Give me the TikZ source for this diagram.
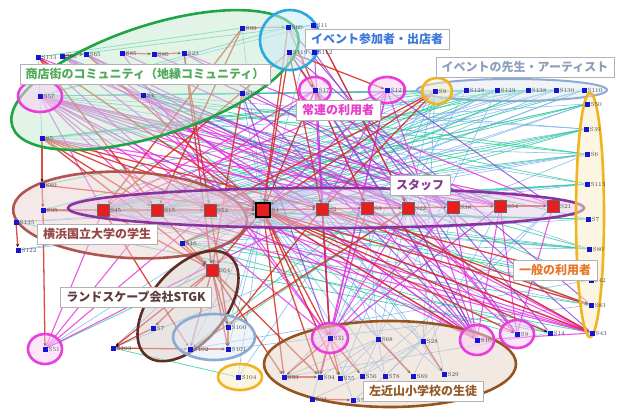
\documentclass[tikz,border=0pt]{standalone}
\usepackage{fontspec}
\usepackage{tikz}
\usetikzlibrary{arrows.meta}
\newfontfamily\jp{Noto Sans CJK JP}
\pgfdeclarelayer{edges}
\pgfdeclarelayer{groups}
\pgfsetlayers{edges,groups,main}
\definecolor{nodeblue}{RGB}{20,20,210}
\definecolor{staffred}{RGB}{232,30,30}
\definecolor{linkred}{RGB}{215,45,30}
\definecolor{linkpink}{RGB}{232,45,222}
\definecolor{linkviolet}{RGB}{150,60,210}
\definecolor{linkblue}{RGB}{110,170,235}
\definecolor{linkgreen}{RGB}{40,210,150}
\definecolor{grpgreen}{RGB}{30,165,70}
\definecolor{grpcyan}{RGB}{40,170,225}
\definecolor{grpsteel}{RGB}{140,170,210}
\definecolor{grppink}{RGB}{235,60,220}
\definecolor{grpyellow}{RGB}{240,180,30}
\definecolor{grppurple}{RGB}{140,50,160}
\definecolor{grprose}{RGB}{175,85,80}
\definecolor{grpbrown}{RGB}{95,45,35}
\definecolor{grpochre}{RGB}{150,85,30}
\definecolor{txtgreen}{RGB}{80,170,90}
\definecolor{txtblue}{RGB}{60,120,220}
\definecolor{txtsteel}{RGB}{140,160,190}
\definecolor{txtpink}{RGB}{230,60,200}
\definecolor{txtpurple}{RGB}{130,60,140}
\definecolor{txtrose}{RGB}{150,70,70}
\definecolor{txtbrown}{RGB}{90,60,60}
\definecolor{txtorange}{RGB}{230,120,40}
\definecolor{txtochre}{RGB}{150,90,40}

\begin{document}
\begin{tikzpicture}[x=1pt,y=-1pt,
  lbl/.style={font=\fontsize{6}{6}\selectfont,text=black!70,inner sep=0.6pt},
  usr/.style={rectangle,fill=nodeblue,minimum size=5pt,inner sep=0pt,label={[lbl]right:#1}},
  stf/.style={rectangle,fill=staffred,draw=black!60,minimum size=12pt,inner sep=0pt,label={[lbl]right:#1}},
  rlink/.style={linkred,line width=1.3pt,draw opacity=0.85,-{Stealth[length=3.5pt,width=3pt,color=black]}},
  plink/.style={linkpink,line width=1.1pt,draw opacity=0.8},
  vlink/.style={linkviolet,line width=1pt,draw opacity=0.8},
  blink/.style={linkblue,line width=0.55pt,draw opacity=0.85},
  glink/.style={linkgreen,line width=0.8pt,draw opacity=0.8},
  grp/.style={line width=2.6pt,draw=#1,fill=#1!25,fill opacity=0.5},
  tag/.style={draw=black!30,fill=white,font=\jp\bfseries\fontsize{12}{12}\selectfont,inner xsep=6pt,inner ysep=4pt,text=#1}]
\useasboundingbox (0,0) rectangle (620,416);

% users
\foreach \n/\x/\y in {S133/38/57,S66/62/56,S65/86/54,S85/122/53,S86/154/54,S23/184/53,
  S99/242/28,S60/288/27,S11/313/25,S119/289/52,S112/314/52,S57/40/96,S4/143/95,
  S125/242/93,S5/42/138,S17/315/90,S121/387/90,S128/466/90,S129/497/90,S138/528/90,
  S130/556/90,S110/584/90,S50/587/104,S39/586/129,S6/587/154,S113/587/184,S80/589/249,
  S42/591/280,S83/591/305,S43/592/333,S14/550/333,S10/477/340,S31/330/338,S68/378/339,
  S28/423/341,S93/284/377,S94/320/377,S55/340/378,S56/362/376,S78/385/376,S69/413/376,
  S29/444/374,S34/312/399,S53/353/400,S51/45/349,S103/113/348,S102/190/349,
  S100/228/327,S101/228/349,S104/238/377,S16/182/243,S89/42/185,S95/43/210,
  S135/16/222,S122/18/250}
  \node[usr=\n] (\n) at (\x,\y) {};
\node[usr=S9] (S9t) at (435,91) {};
\node[usr=S9] (S9b) at (517,334) {};
\node[usr=S7] (S7r) at (588,219) {};
\node[usr=S7] (S7l) at (153,328) {};

% staff
\foreach \n/\x/\y in {S45/103/210,S15/157/210,S52/210/210,S2/322/209,S3/367/208,
  S22/408/208,S38/453/207,S54/500/206,S21/553/206,S64/212/270}
  \node[stf=\n] (\n) at (\x,\y) {};
\node[stf=S1,minimum size=14pt,draw=black,line width=1.4pt] (S1) at (263,210) {};

% links
\begin{pgfonlayer}{edges}
\fill[white] (0,0) rectangle (620,416);
\foreach \a/\b in {S1/S128,S1/S129,S1/S138,S1/S130,S1/S110,S1/S50,S1/S39,S1/S6,S1/S113,
  S1/S7r,S1/S80,S1/S42,S1/S83,S1/S14,S1/S68,S1/S28,S1/S69,S1/S29,S1/S78,S1/S56,S1/S55,
  S1/S100,S1/S101,S1/S102,S1/S104,S1/S122,S1/S135,S1/S57,S1/S4,S1/S125,S1/S99,S1/S11,
  S1/S51,S1/S103,S9t/S68,S9t/S28,S9t/S31,S9t/S45,S128/S45,S128/S15,S128/S57,S129/S16,
  S129/S4,S130/S15,S130/S5,S110/S45,S110/S57,S50/S5,S50/S16,S39/S4,S39/S57,S6/S5,
  S113/S135,S80/S16,S80/S95,S68/S93,S68/S94,S68/S55,S68/S56,S68/S78,S68/S69,S28/S78,
  S28/S56,S28/S55,S31/S53,S31/S34,S56/S34,S78/S53,S2/S68,S2/S28,S2/S29,S2/S14,S3/S31,
  S3/S68,S22/S29,S22/S55,S38/S93,S38/S28,S54/S69,S54/S31,S21/S56,S21/S78,S57/S4,
  S57/S125,S57/S11,S133/S5,S9t/S104,S42/S102,S83/S101,S6/S103,S113/S122,S14/S93,
  S1/S9t,S1/S17,S1/S121,S50/S45,S39/S45,S6/S52,S6/S15,S113/S57,S7r/S45,S7r/S16,
  S80/S4,S42/S16,S83/S45,S128/S16,S129/S57,S138/S15,S138/S45,S130/S4,S110/S16,
  S9t/S57,S9t/S15,S128/S31,S129/S68}
  \draw[blink] (\a) -- (\b);
\foreach \a/\b in {S50/S15,S39/S52,S6/S57,S113/S4,S7r/S95,S80/S45,S42/S15,S83/S16,
  S43/S135,S128/S52,S129/S45,S130/S57,S138/S5,S11/S66,S104/S103,S51/S64,S60/S57,
  S99/S133,S22/S100,S3/S102,S6/S45,S39/S16,S113/S15,S80/S52,S138/S89,S129/S95,
  S14/S64,S9b/S16,S42/S4,S7r/S57,S50/S45,S39/S15,S6/S4,S113/S45,S7r/S15,S80/S57,
  S42/S52,S83/S57,S128/S5,S130/S45,S138/S16,S110/S15,S14/S45,S9t/S5,S129/S52}
  \draw[glink] (\a) -- (\b);
\foreach \a/\b in {S57/S45,S57/S15,S57/S52,S57/S1,S57/S2,S57/S3,S57/S22,S57/S38,
  S17/S31,S17/S45,S17/S15,S17/S9b,S121/S10,S121/S31,S121/S94,S121/S45,S51/S45,S51/S15,
  S51/S2,S10/S1,S10/S2,S10/S3,S10/S22,S10/S38,S10/S54,S10/S43,S9b/S54,S9b/S21,S9b/S3,
  S43/S1,S43/S2,S43/S45,S43/S15,S31/S2,S31/S3,S31/S22,S31/S54,S66/S1,S66/S2,S66/S3,
  S133/S52,S65/S22,S85/S38,S86/S54,S23/S21,S5/S22,S5/S54,S57/S54,S57/S21,S57/S10,
  S57/S31,S17/S2,S17/S3,S121/S2,S121/S1,S4/S10,S4/S31,S65/S10,S85/S31,S66/S43,
  S51/S52,S43/S52,S43/S3,S10/S52,S31/S38,S9b/S22,S133/S22}
  \draw[plink] (\a) -- (\b);
\foreach \a/\b in {S4/S54,S125/S31,S23/S38,S65/S3,S11/S10,S17/S43,S121/S21,S112/S9b,
  S60/S14,S119/S83,S17/S10,S11/S31,S119/S10,S4/S22,S125/S10,S66/S38}
  \draw[vlink] (\a) -- (\b);
\foreach \a/\b in {S5/S89,S89/S95,S95/S51,S135/S122,S66/S65,S85/S86,S86/S23,S99/S60,
  S119/S17,S119/S1,S119/S121,S60/S1,S9t/S1,S9t/S52,S23/S52,S45/S15,S15/S52,S52/S1,
  S1/S2,S2/S3,S3/S22,S22/S38,S38/S54,S54/S21,S1/S64,S64/S102,S64/S100,S64/S101,
  S64/S7l,S64/S103,S7l/S103,S103/S102,S1/S31,S1/S93,S1/S10,S2/S83,S3/S43,S5/S1,
  S5/S52,S5/S15,S31/S93,S31/S94,S31/S55,S31/S56,S93/S94,S34/S53,S68/S69,S28/S29,
  S45/S64,S16/S1,S2/S100,S22/S102,S1/S14,S5/S2,S133/S15,S99/S45,S102/S101,S100/S101,
  S23/S64,S65/S1,S133/S1,S5/S64,S89/S1,S95/S52,S119/S2,S60/S3,S11/S22,S17/S1,
  S125/S64,S1/S43,S1/S83,S2/S31,S45/S102,S15/S64,S52/S100,S16/S64,S1/S94,S1/S55,
  S1/S9b,S9t/S2,S119/S45,S99/S15,S64/S93,S64/S94,S2/S42}
  \draw[rlink] (\a) -- (\b);
\end{pgfonlayer}

% groups
\begin{pgfonlayer}{groups}
\draw[grp=grpgreen,rotate around={18:(155,80)}] (155,80) ellipse [x radius=150pt,y radius=55pt];
\draw[grp=grpcyan] (290,40) circle [radius=30pt];
\draw[grp=grpsteel,line width=2pt] (512,90) ellipse [x radius=95pt,y radius=11pt];
\draw[grp=grprose,rotate around={-3:(130,215)}] (130,215) ellipse [x radius=117pt,y radius=43pt];
\draw[grp=grppurple] (326,208) ellipse [x radius=258pt,y radius=20pt];
\draw[grp=grpbrown,rotate around={50:(188,306)}] (188,306) ellipse [x radius=65pt,y radius=37pt];
\draw[grp=grpsteel] (214,337) ellipse [x radius=41pt,y radius=23pt];
\draw[grp=grpochre] (390,364) ellipse [x radius=126pt,y radius=43pt];
\draw[grp=grpyellow] (590,215) ellipse [x radius=14pt,y radius=122pt];
\foreach \x/\y/\rx/\ry in {40/96/22/16,315/90/16/13,387/90/18/13,330/338/18/15,
  477/340/17/15,517/334/17/14,45/349/17/15}
  \draw[grp=grppink] (\x,\y) ellipse [x radius=\rx pt,y radius=\ry pt];
\draw[grp=grpyellow] (437,91) ellipse [x radius=15pt,y radius=13pt];
\draw[grp=grpyellow] (240,377) ellipse [x radius=22pt,y radius=13pt];
\end{pgfonlayer}

% group names
\node[tag=txtgreen] (tShop) at (145,74) {商店街のコミュニティ（地縁コミュニティ）};
\node[tag=txtblue] (tEvent) at (377,39) {イベント参加者・出店者};
\node[tag=txtsteel] (tArtist) at (525,67) {イベントの先生・アーティスト};
\node[tag=txtpink] (tRegular) at (338,110) {常連の利用者};
\node[tag=txtpurple] (tStaff) at (420,185) {スタッフ};
\node[tag=txtrose] (tUniv) at (97,234) {横浜国立大学の学生};
\node[tag=txtbrown] (tStgk) at (136,297) {ランドスケープ会社STGK};
\node[tag=txtorange] (tGeneral) at (555,270) {一般の利用者};
\node[tag=txtochre] (tSchool) at (423,391) {左近山小学校の生徒};
\end{tikzpicture}
\end{document}
